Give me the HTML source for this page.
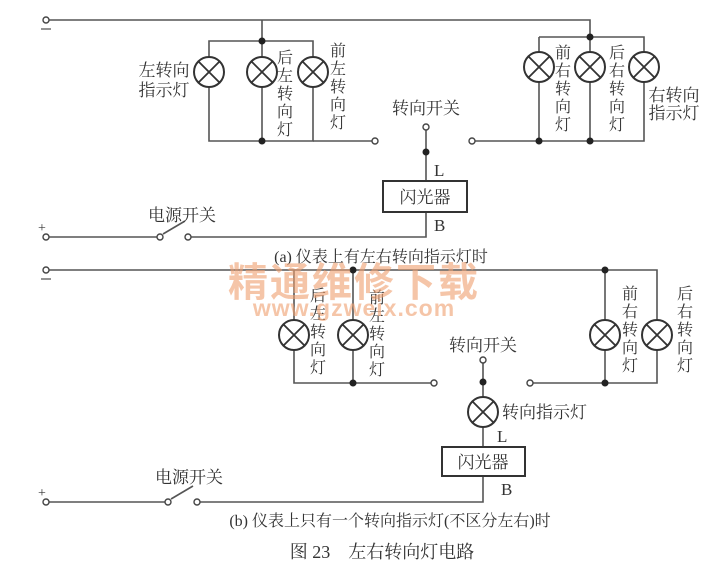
<!DOCTYPE html>
<html><head><meta charset="utf-8"><style>
html,body{margin:0;padding:0;background:#fff;}
svg{display:block;}
text{font-family:"Liberation Serif","Noto Serif CJK SC","Noto Sans CJK SC",serif;fill:#333;}
</style></head><body>
<svg width="707" height="577" viewBox="0 0 707 577" xmlns="http://www.w3.org/2000/svg">
<defs>
<g id="lamp"><circle r="15" fill="#fff" stroke="#333" stroke-width="2"/><path d="M-10.6,-10.6L10.6,10.6M10.6,-10.6L-10.6,10.6" stroke="#333" stroke-width="1.8"/></g>
</defs>
<g stroke="#555" stroke-width="1.6" fill="none">
<path d="M49,20H590V37"/>
<path d="M262,20V41"/>
<path d="M209,41H313V141H209Z"/>
<path d="M262,41V141"/>
<path d="M313,141H372"/>
<path d="M539,37H644V141H475"/>
<path d="M539,37V141M590,37V141"/>
<path d="M426,130V181M426,212V237H191"/>
<path d="M49,237H157"/>
<path d="M163,234L185,221"/>
<rect x="383" y="181" width="84" height="31" stroke="#333" stroke-width="2"/>
<path d="M49,270H657V383H533"/>
<path d="M294,270V383H431M353,270V383"/>
<path d="M605,270V383"/>
<path d="M483,363V447M483,476V502H200"/>
<path d="M49,502H165"/>
<path d="M171,499L193,486"/>
<rect x="442" y="447" width="83" height="29" stroke="#333" stroke-width="2"/>
</g>
<g fill="#fff" stroke="#444" stroke-width="1.4">
<circle cx="46" cy="20" r="3"/><circle cx="375" cy="141" r="3"/><circle cx="472" cy="141" r="3"/>
<circle cx="426" cy="127" r="3"/><circle cx="46" cy="237" r="3"/><circle cx="160" cy="237" r="3"/><circle cx="188" cy="237" r="3"/>
<circle cx="46" cy="270" r="3"/><circle cx="434" cy="383" r="3"/><circle cx="530" cy="383" r="3"/>
<circle cx="483" cy="360" r="3"/><circle cx="46" cy="502" r="3"/><circle cx="168" cy="502" r="3"/><circle cx="197" cy="502" r="3"/>
</g>
<g fill="#222">
<circle cx="262" cy="41" r="3.5"/><circle cx="262" cy="141" r="3.5"/><circle cx="590" cy="37" r="3.5"/>
<circle cx="539" cy="141" r="3.5"/><circle cx="590" cy="141" r="3.5"/><circle cx="426" cy="152" r="3.5"/>
<circle cx="353" cy="270" r="3.5"/><circle cx="605" cy="270" r="3.5"/><circle cx="353" cy="383" r="3.5"/>
<circle cx="605" cy="383" r="3.5"/><circle cx="483" cy="382" r="3.5"/>
</g>
<use href="#lamp" x="209" y="72"/><use href="#lamp" x="262" y="72"/><use href="#lamp" x="313" y="72"/>
<use href="#lamp" x="539" y="67"/><use href="#lamp" x="590" y="67"/><use href="#lamp" x="644" y="67"/>
<use href="#lamp" x="294" y="335"/><use href="#lamp" x="353" y="335"/>
<use href="#lamp" x="605" y="335"/><use href="#lamp" x="657" y="335"/>
<use href="#lamp" x="483" y="412"/>
<g font-size="17" text-anchor="middle">
<text x="164" y="76">左转向</text><text x="164" y="96">指示灯</text>
<text x="674" y="101">右转向</text><text x="674" y="119">指示灯</text>
<g font-size="16">
<text x="285"><tspan x="285" y="63">后</tspan><tspan x="285" y="81">左</tspan><tspan x="285" y="99">转</tspan><tspan x="285" y="117">向</tspan><tspan x="285" y="135">灯</tspan></text>
<text x="338"><tspan x="338" y="56">前</tspan><tspan x="338" y="74">左</tspan><tspan x="338" y="92">转</tspan><tspan x="338" y="110">向</tspan><tspan x="338" y="128">灯</tspan></text>
<text x="563"><tspan x="563" y="58">前</tspan><tspan x="563" y="76">右</tspan><tspan x="563" y="94">转</tspan><tspan x="563" y="112">向</tspan><tspan x="563" y="130">灯</tspan></text>
<text x="617"><tspan x="617" y="58">后</tspan><tspan x="617" y="76">右</tspan><tspan x="617" y="94">转</tspan><tspan x="617" y="112">向</tspan><tspan x="617" y="130">灯</tspan></text>
<text x="318"><tspan x="318" y="301">后</tspan><tspan x="318" y="319">左</tspan><tspan x="318" y="337">转</tspan><tspan x="318" y="355">向</tspan><tspan x="318" y="373">灯</tspan></text>
<text x="377"><tspan x="377" y="303">前</tspan><tspan x="377" y="321">左</tspan><tspan x="377" y="339">转</tspan><tspan x="377" y="357">向</tspan><tspan x="377" y="375">灯</tspan></text>
<text x="630"><tspan x="630" y="299">前</tspan><tspan x="630" y="317">右</tspan><tspan x="630" y="335">转</tspan><tspan x="630" y="353">向</tspan><tspan x="630" y="371">灯</tspan></text>
<text x="685"><tspan x="685" y="299">后</tspan><tspan x="685" y="317">右</tspan><tspan x="685" y="335">转</tspan><tspan x="685" y="353">向</tspan><tspan x="685" y="371">灯</tspan></text>
</g>
<text x="426" y="114">转向开关</text>
<text x="483" y="351">转向开关</text>
<text x="182" y="221">电源开关</text>
<text x="189" y="483">电源开关</text>
<text x="425" y="203">闪光器</text>
<text x="483" y="468">闪光器</text>
</g>
<g font-size="17">
<text x="502" y="418">转向指示灯</text>
<text x="434" y="176">L</text><text x="434" y="231">B</text>
<text x="497" y="442">L</text><text x="501" y="495">B</text>
<text x="38" y="232" font-size="14">+</text>
<text x="38" y="497" font-size="14">+</text>
</g>
<g stroke="#555" stroke-width="1.2"><path d="M41,29H51M41,279H51"/></g>
<text x="381" y="262" font-size="16" text-anchor="middle">(a) 仪表上有左右转向指示灯时</text>
<text x="390" y="526" font-size="16" text-anchor="middle">(b) 仪表上只有一个转向指示灯(不区分左右)时</text>
<text x="382" y="558" font-size="18" text-anchor="middle">图 23　左右转向灯电路</text>
<g opacity="0.6" text-anchor="middle">
<text x="354" y="296" font-size="40" font-weight="bold" style="fill:#f0a070;font-family:'Noto Sans CJK SC',sans-serif" letter-spacing="2">精通维修下载</text>
<text x="354" y="316" font-size="23" font-weight="bold" style="fill:#f0a070;font-family:'Liberation Sans',sans-serif" letter-spacing="1">www.gzweix.com</text>
</g>
</svg>
</body></html>
